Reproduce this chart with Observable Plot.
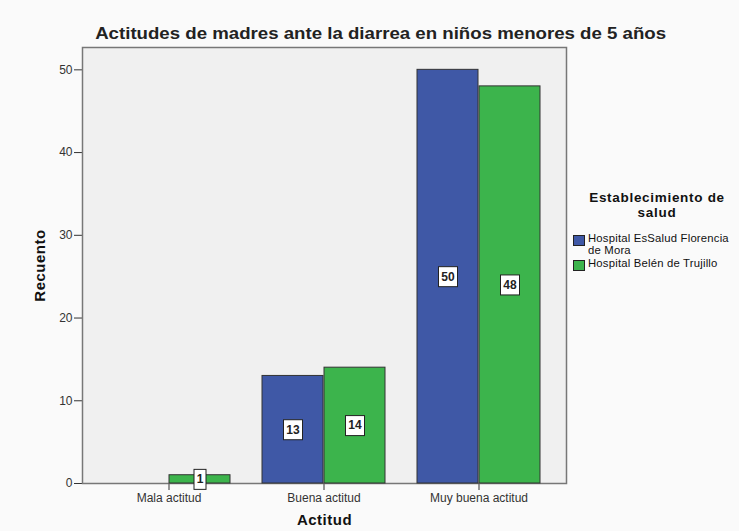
<!DOCTYPE html>
<html>
<head>
<meta charset="utf-8">
<script src="https://cdn.jsdelivr.net/npm/d3@7"></script>
<script src="https://cdn.jsdelivr.net/npm/@observablehq/plot@0.6"></script>
<style>
  html, body { margin: 0; padding: 0; background: #fafafa; }
  #wrap { position: relative; width: 739px; height: 531px; background: #fafafa; font-family: "Liberation Sans", Arial, sans-serif; overflow: hidden; }
  #title { height: 42px; padding-top: 23px; line-height: 20px; box-sizing: border-box; text-align: center; white-space: nowrap; }
  #title span { display: inline-block; font-size: 16.5px; font-weight: bold; color: #222; transform: scaleX(1.13); margin-left: 22px; }
  #legend { position: absolute; left: 573px; top: 190px; width: 166px; color: #111; }
  #legend .lt { font-size: 13.5px; font-weight: bold; text-align: center; line-height: 15px; letter-spacing: 0.7px; margin-left: 2px; }
  #legend .item { position: relative; font-size: 11.3px; line-height: 12px; padding-left: 15px; letter-spacing: 0.2px; }
  #legend .sw { position: absolute; left: 0px; top: 3px; width: 10px; height: 9px; border: 1px solid #222; }
  svg text { font-family: "Liberation Sans", Arial, sans-serif; }
  g[aria-label="y-axis label"] text, g[aria-label="x-axis label"] text { font-weight: bold; font-size: 15px; fill: #111; letter-spacing: 0.5px; }
</style>
</head>
<body>
<div id="wrap">
  <div id="title"><span>Actitudes de madres ante la diarrea en niños menores de 5 años</span></div>
  <div id="chart"></div>
  <div id="legend"></div>
</div>
<script>
const categories = ["Mala actitud", "Buena actitud", "Muy buena actitud"];
const series = ["Hospital EsSalud Florencia de Mora", "Hospital Belén de Trujillo"];
const florencia = [0, 13, 50];
const belen = [1, 14, 48];
const yTicks = [0, 10, 20, 30, 40, 50];
const colors = ["#3f58a6", "#3cb44c"];
const xLabel = "Actitud";
const yLabel = "Recuento";

const W = 739, H = 489, ML = 82, MR = 173, MT = 5, MB = 48;
const padInner = 0.205, padOuter = 0.154;
const step = (W - ML - MR) / (categories.length - padInner + 2 * padOuter);
const bandwidth = step * (1 - padInner);
const half = bandwidth / 2;

const rowsA = categories.map((c, i) => ({category: c, series: series[0], value: florencia[i]}));
const rowsB = categories.map((c, i) => ({category: c, series: series[1], value: belen[i]}));

function boxedText(index, scales, values, dimensions, context, next) {
  const g = next(index, scales, values, dimensions, context);
  const ns = "http://www.w3.org/2000/svg";
  const texts = g.querySelectorAll("text");
  Array.from(index).forEach((i, k) => {
    const t = texts[k];
    if (!t) return;
    const X = values.x[i];
    const Y = values.y[i];
    const len = String(t.textContent).length;
    const w = 7 * len + 5, h = 20;
    const r = document.createElementNS(ns, "rect");
    r.setAttribute("x", X - w / 2);
    r.setAttribute("y", Y - h / 2);
    r.setAttribute("width", w);
    r.setAttribute("height", h);
    r.setAttribute("fill", "white");
    r.setAttribute("stroke", "#222");
    r.setAttribute("stroke-width", "1");
    t.parentNode.insertBefore(r, t);
  });
  return g;
}

const textOpts = (dx) => ({x: "category", y: d => d.value / 2, text: d => String(d.value), dx, fontSize: 12, fontWeight: "bold", fill: "#222", render: boxedText});

const chart = Plot.plot({
  width: W,
  height: H,
  marginLeft: ML,
  marginRight: MR,
  marginTop: MT,
  marginBottom: MB,
  style: {background: "transparent", fontSize: "12px", color: "#333"},
  x: {domain: categories, paddingInner: padInner, paddingOuter: padOuter, label: xLabel, labelAnchor: "center", labelOffset: 41, tickSize: 7, tickPadding: 3, labelArrow: "none"},
  y: {domain: [0, 52.7], ticks: yTicks, tickSize: 8, tickPadding: 2, label: yLabel, labelAnchor: "center", labelOffset: 48, labelArrow: "none"},
  marks: [
    Plot.frame({fill: "#f0f0f0", stroke: "#777", strokeWidth: 1.5}),
    Plot.barY(rowsA, {x: "category", y: "value", fill: colors[0], stroke: "#333", strokeWidth: 1, insetLeft: 0, insetRight: half}),
    Plot.barY(rowsB, {x: "category", y: "value", fill: colors[1], stroke: "#333", strokeWidth: 1, insetLeft: half, insetRight: 0}),
    Plot.text(rowsA.filter(d => d.value > 0), textOpts(-half / 2)),
    Plot.text(rowsB.filter(d => d.value > 0), textOpts(half / 2))
  ]
});
document.getElementById("chart").appendChild(chart);

const legend = document.getElementById("legend");
const lt = document.createElement("div");
lt.className = "lt";
lt.innerHTML = "Establecimiento de<br>salud";
legend.appendChild(lt);
const spacer = document.createElement("div");
spacer.style.height = "12px";
legend.appendChild(spacer);
series.forEach((s, i) => {
  const it = document.createElement("div");
  it.className = "item";
  if (i === 0) {
    it.innerHTML = "Hospital EsSalud Florencia<br>de Mora";
  } else {
    it.textContent = s;
    it.style.marginTop = "1px";
  }
  const sw = document.createElement("span");
  sw.className = "sw";
  sw.style.background = colors[i];
  it.appendChild(sw);
  legend.appendChild(it);
});
</script>
</body>
</html>
